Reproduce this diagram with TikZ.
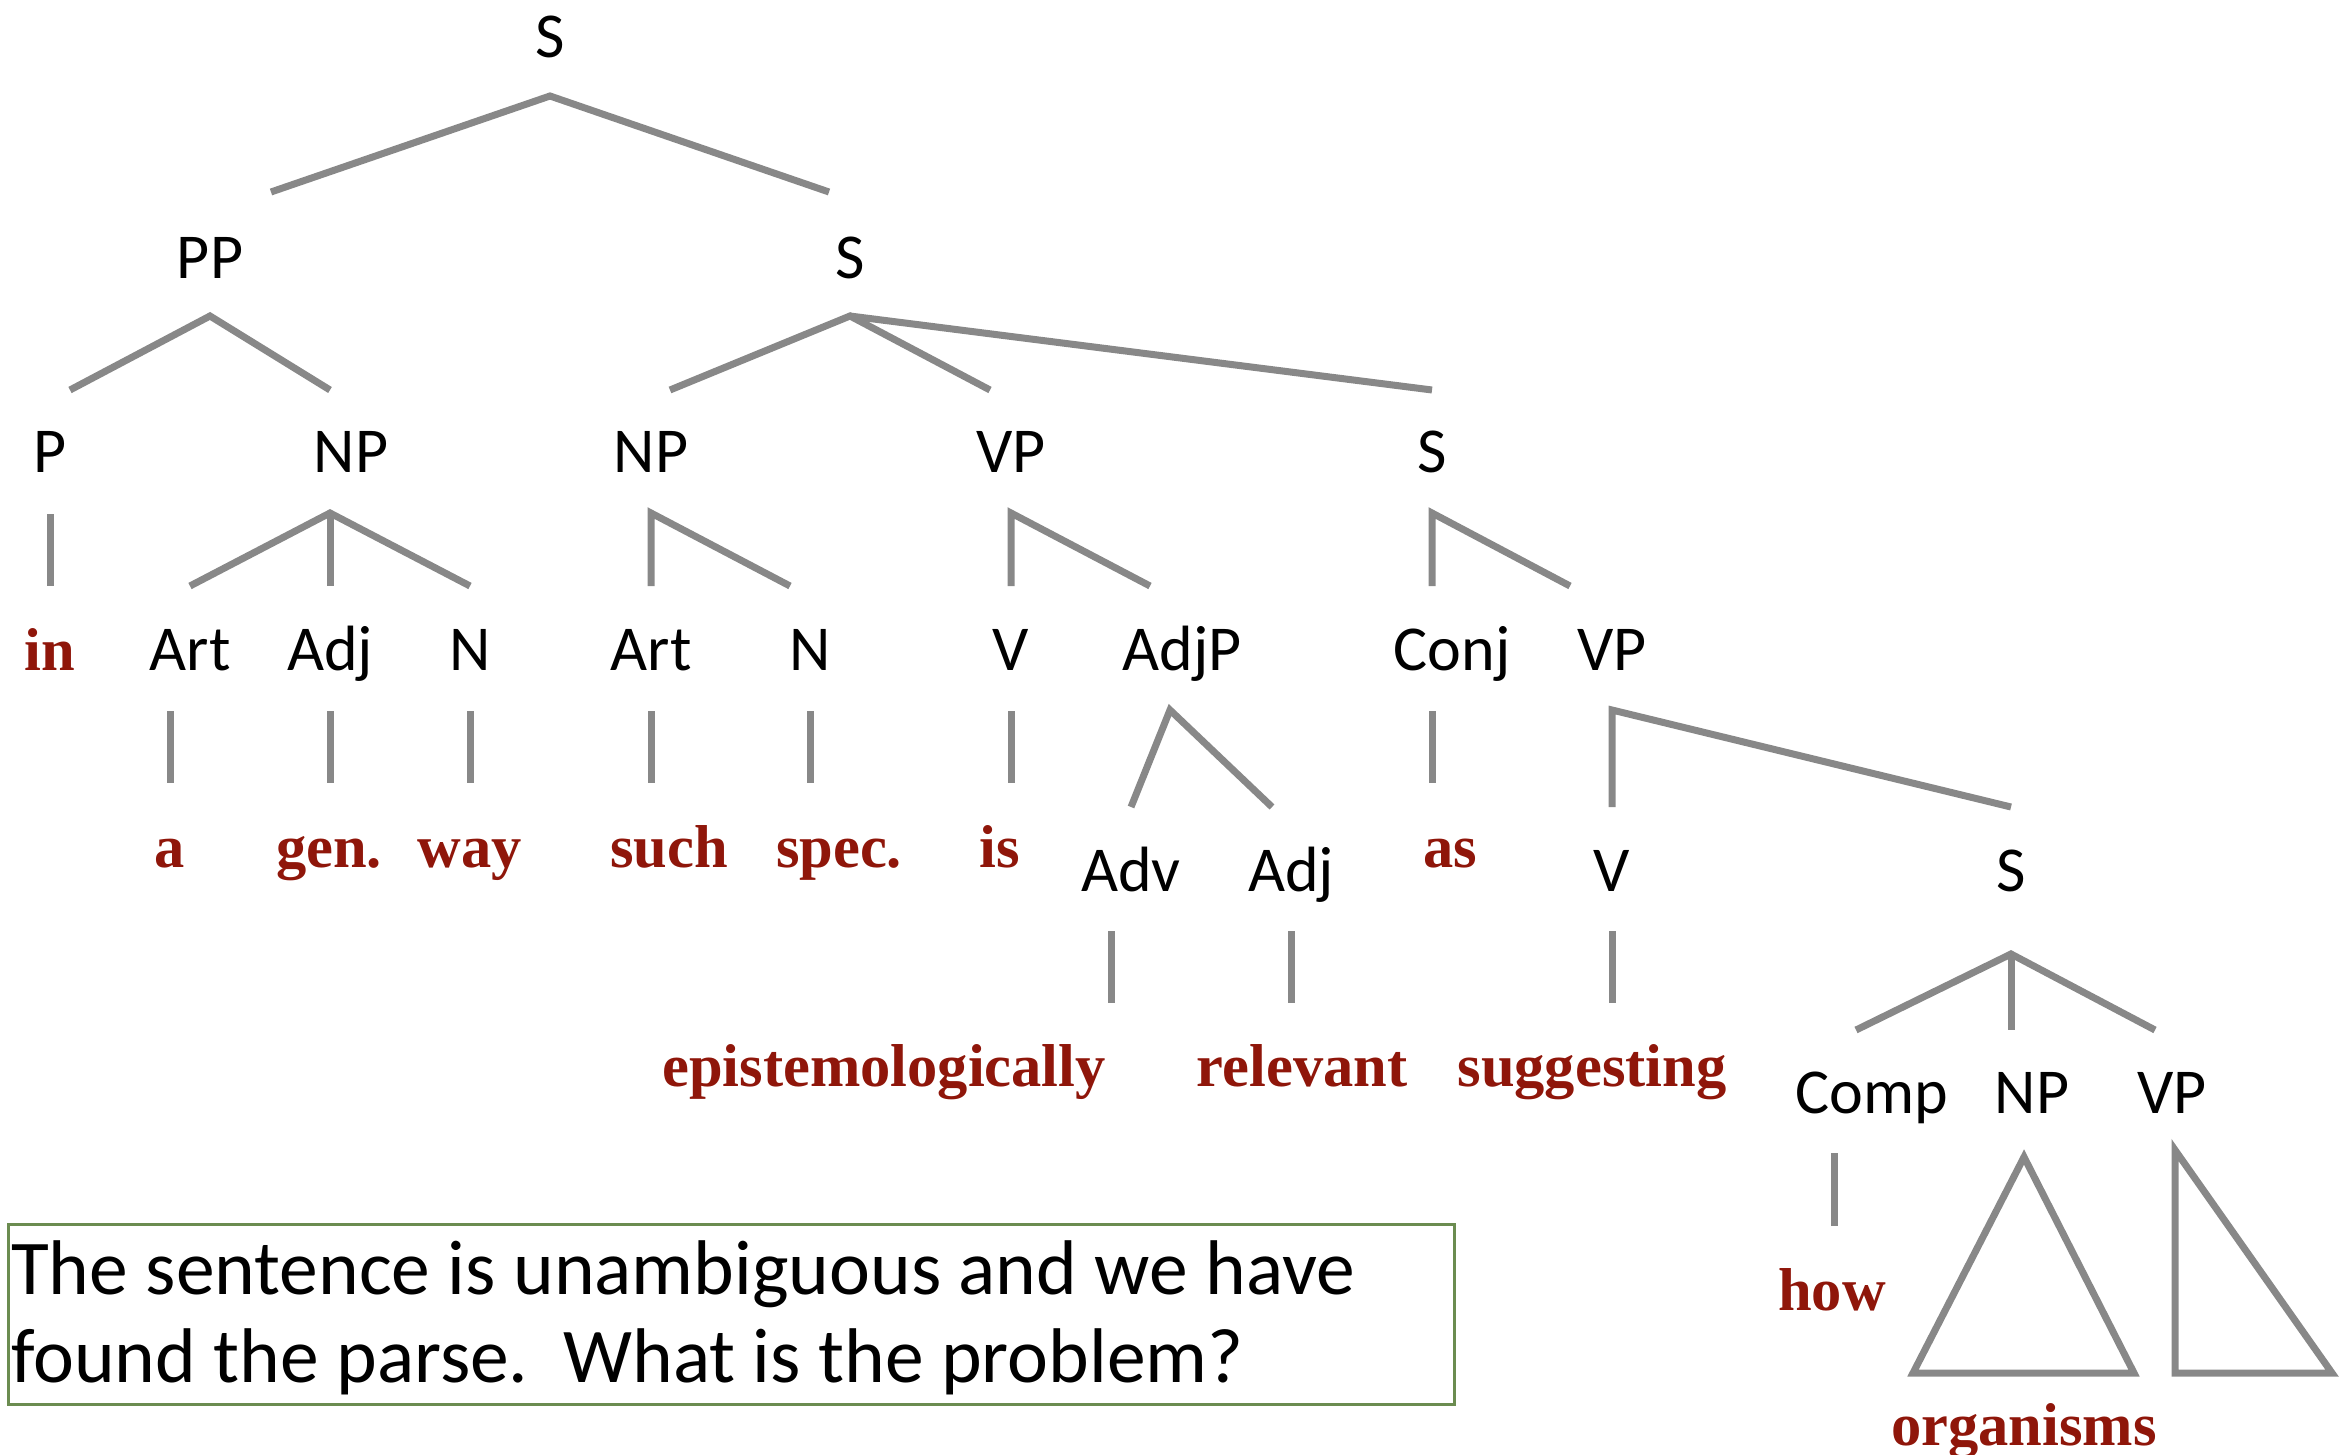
\documentclass[tikz,border=0pt]{standalone}
\usepackage{fontspec}
\setmainfont{Carlito}
\newfontfamily\redfont{Liberation Serif}
\definecolor{wordred}{RGB}{143,22,10}
\definecolor{linegray}{RGB}{136,136,136}
\definecolor{boxgreen}{RGB}{107,140,80}
\begin{document}
\begin{tikzpicture}[x=1pt,y=-1pt,
  lab/.style={anchor=base,inner sep=0pt,font=\fontsize{64}{70}\selectfont},
  word/.style={anchor=base,inner sep=0pt,text=wordred,font=\redfont\bfseries\fontsize{60.5}{66}\selectfont},
  br/.style={draw=linegray,line width=7pt},
  tri/.style={draw=linegray,line width=7pt,line join=miter},
  boxtxt/.style={anchor=base west,inner sep=0pt,font=\fontsize{77.5}{88}\selectfont}]
\useasboundingbox (0,0) rectangle (2352,1455);
% labels
\node[lab] (s0) at (550,58) {S};
\node[lab] (pp) at (210,279) {PP};
\node[lab] (s1) at (850,279) {S};
\node[lab] (p) at (50,472) {P};
\node[lab] (np1) at (351,472) {NP};
\node[lab] (np2) at (651,472) {NP};
\node[lab] (vp1) at (1011,472) {VP};
\node[lab] (s2) at (1432,472) {S};
\node[word] (in) at (50,670) {in};
\node[lab] (art1) at (190,670) {Art};
\node[lab] (adj1) at (330,670) {Adj};
\node[lab] (n1) at (470,670) {N};
\node[lab] (art2) at (651,670) {Art};
\node[lab] (n2) at (810,670) {N};
\node[lab] (v1) at (1011,670) {V};
\node[lab] (adjp) at (1182,670) {AdjP};
\node[lab] (conj) at (1452,670) {Conj};
\node[lab] (vp2) at (1612,670) {VP};
\node[word] (wa) at (170,867) {a};
\node[word] (wgen) at (329,867) {gen.};
\node[word] (wway) at (470,867) {way};
\node[word] (wsuch) at (669,867) {such};
\node[word] (wspec) at (839,867) {spec.};
\node[word] (wis) at (1000,867) {is};
\node[word] (was) at (1450,867) {as};
\node[lab] (adv) at (1131,891) {Adv};
\node[lab] (adj2) at (1291,891) {Adj};
\node[lab] (v2) at (1612,891) {V};
\node[lab] (s3) at (2011,891) {S};
\node[word] (wepi) at (884,1086) {epistemologically};
\node[word] (wrel) at (1302,1086) {relevant};
\node[word] (wsug) at (1592,1086) {suggesting};
\node[lab] (comp) at (1872,1113) {Comp};
\node[lab] (np3) at (2032,1113) {NP};
\node[lab] (vp3) at (2172,1113) {VP};
\node[word] (whow) at (1832,1310) {how};
\node[word] (worg) at (2024,1445) {organisms};
% branch points
\coordinate (s0a) at (550,96);
\coordinate (s0l) at (271,192);
\coordinate (s0r) at (829,192);
\coordinate (ppa) at (210,316);
\coordinate (ppl) at (70,390);
\coordinate (ppr) at (330,390);
\coordinate (s1a) at (850,316);
\coordinate (s1l) at (670,390);
\coordinate (s1m) at (990,390);
\coordinate (s1r) at (1432,390);
\coordinate (pa) at (50,514);
\coordinate (pb) at (50,586);
\coordinate (np1a) at (330,513);
\coordinate (np1l) at (190,586);
\coordinate (np1m) at (330,586);
\coordinate (np1r) at (470,586);
\coordinate (np2a) at (651,513);
\coordinate (np2l) at (651,586);
\coordinate (np2r) at (790,586);
\coordinate (vp1a) at (1011,513);
\coordinate (vp1l) at (1011,586);
\coordinate (vp1r) at (1150,586);
\coordinate (s2a) at (1432,513);
\coordinate (s2l) at (1432,586);
\coordinate (s2r) at (1570,586);
\coordinate (art1a) at (170,711);
\coordinate (art1b) at (170,783);
\coordinate (adj1a) at (330,711);
\coordinate (adj1b) at (330,783);
\coordinate (n1a) at (470,711);
\coordinate (n1b) at (470,783);
\coordinate (art2a) at (651,711);
\coordinate (art2b) at (651,783);
\coordinate (n2a) at (810,711);
\coordinate (n2b) at (810,783);
\coordinate (v1a) at (1011,711);
\coordinate (v1b) at (1011,783);
\coordinate (conja) at (1432,711);
\coordinate (conjb) at (1432,783);
\coordinate (adjpa) at (1170,710);
\coordinate (adjpl) at (1131,807);
\coordinate (adjpr) at (1272,807);
\coordinate (vp2a) at (1612,710);
\coordinate (vp2l) at (1612,807);
\coordinate (vp2r) at (2011,807);
\coordinate (adva) at (1111,931);
\coordinate (advb) at (1111,1003);
\coordinate (adj2a) at (1291,931);
\coordinate (adj2b) at (1291,1003);
\coordinate (v2a) at (1612,931);
\coordinate (v2b) at (1612,1003);
\coordinate (s3a) at (2011,954);
\coordinate (s3l) at (1856,1030);
\coordinate (s3m) at (2011,1030);
\coordinate (s3r) at (2155,1030);
\coordinate (compa) at (1834,1153);
\coordinate (compb) at (1834,1226);
\coordinate (t1a) at (2024,1157);
\coordinate (t1l) at (1913,1373);
\coordinate (t1r) at (2134,1373);
\coordinate (t2a) at (2175,1150);
\coordinate (t2l) at (2175,1373);
\coordinate (t2r) at (2332,1373);
% branches
\draw[br] (s0l) -- (s0a) -- (s0r);
\draw[br] (ppl) -- (ppa) -- (ppr);
\draw[br] (s1l) -- (s1a) -- (s1m);
\draw[br] (s1a) -- (s1r);
\draw[br] (pa) -- (pb);
\draw[br] (np1l) -- (np1a) -- (np1r);
\draw[br] (np1a) -- (np1m);
\draw[br] (np2l) -- (np2a) -- (np2r);
\draw[br] (vp1l) -- (vp1a) -- (vp1r);
\draw[br] (s2l) -- (s2a) -- (s2r);
\draw[br] (art1a) -- (art1b);
\draw[br] (adj1a) -- (adj1b);
\draw[br] (n1a) -- (n1b);
\draw[br] (art2a) -- (art2b);
\draw[br] (n2a) -- (n2b);
\draw[br] (v1a) -- (v1b);
\draw[br] (conja) -- (conjb);
\draw[br] (adjpl) -- (adjpa) -- (adjpr);
\draw[br] (vp2l) -- (vp2a) -- (vp2r);
\draw[br] (adva) -- (advb);
\draw[br] (adj2a) -- (adj2b);
\draw[br] (v2a) -- (v2b);
\draw[br] (s3l) -- (s3a) -- (s3r);
\draw[br] (s3a) -- (s3m);
\draw[br] (compa) -- (compb);
\draw[tri] (t1a) -- (t1l) -- (t1r) -- cycle;
\draw[tri] (t2a) -- (t2l) -- (t2r) -- cycle;
% box
\coordinate (bx1) at (8,1224);
\coordinate (bx2) at (1454,1404);
\draw[draw=boxgreen,line width=3pt] (bx1) rectangle (bx2);
\node[boxtxt] (q1) at (11,1294) {The sentence is unambiguous and we have};
\node[boxtxt] (q2) at (11,1382) {found the parse.\ \ What is the problem?};
\end{tikzpicture}
\end{document}
